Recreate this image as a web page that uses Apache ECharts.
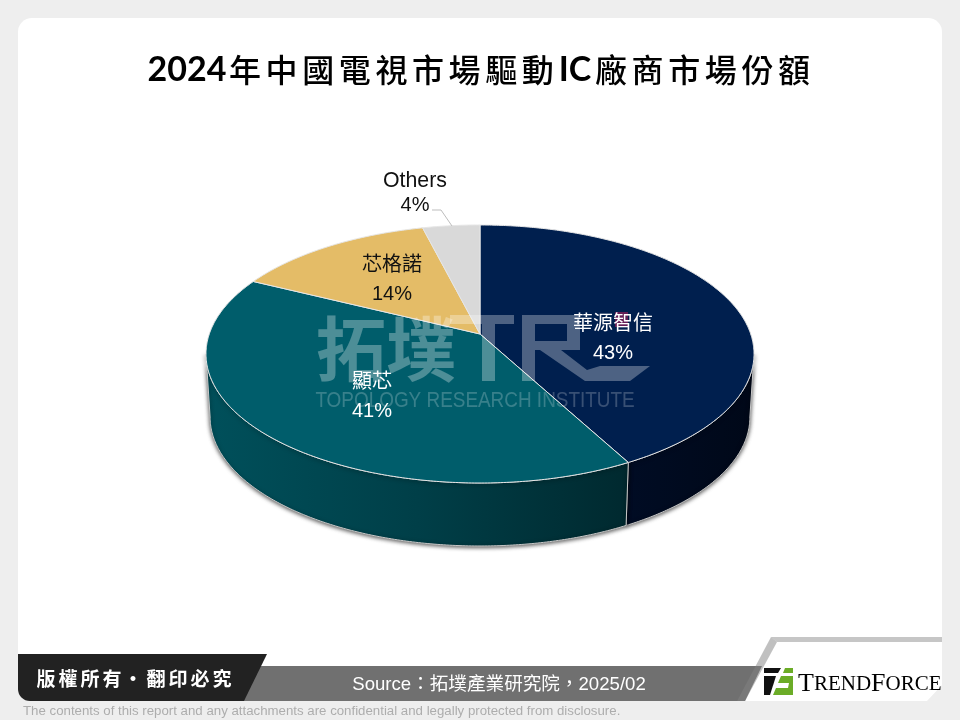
<!DOCTYPE html>
<html><head><meta charset="utf-8">
<style>html,body{margin:0;padding:0;background:#eeeeee}#c{width:960px;height:720px}</style>
<script src="https://cdn.jsdelivr.net/npm/echarts@6/dist/echarts.min.js"></script>
</head><body><div id="c"></div>
<script>
const categories = ['華源智信', '顯芯', '芯格諾', 'Others'];
const shares = [43, 41, 14, 4];
const titleParts = ['2024', '年中國電視市場驅動', 'IC', '廠商市場份額'];
const sourceText = 'Source：拓墣產業研究院，2025/02';
const copyrightChars = ['版','權','所','有','·','翻','印','必','究'];
const disclaimer = 'The contents of this report and any attachments are confidential and legally protected from disclosure.';

const topColors = ['#001f4e', '#005d6b', '#e4bc67', '#d9d9d9'];
const wallStops = [
  [{offset: 0, color: '#000c24'}, {offset: 1, color: '#000818'}],
  [{offset: 0, color: '#00505b'}, {offset: 0.5, color: '#003f48'}, {offset: 1, color: '#00292f'}]
];
const labelColors = ['#fff', '#fff', '#111', '#111'];
const labelBoxes = [[613, 324, 353], [372, 382, 411], [392, 265, 294], [415, 181, 205]];
const nameSizes = [20, 20, 20, 21.3];

const SANS = '"Liberation Sans","Noto Sans CJK TC",sans-serif';
const CJK = '"Noto Sans CJK TC",sans-serif';

// perspective disc
const P = {cx: 480, cy: 334, b: 270.7, a: 125.9, k: 0.155, depth: 63, wallScale: 0.985};
function proj(theta, lift) {
  const X = Math.sin(theta), Y = -Math.cos(theta), w = 1 - P.k * Y;
  const s = lift ? P.wallScale : 1;
  return [P.cx + s * P.b * X / w, P.cy + P.a * Y / w + (lift ? P.depth : 0)];
}
function arc(a0, a1, lift) {
  const n = Math.max(2, Math.ceil(Math.abs(a1 - a0) / 0.01)), pts = [];
  for (let i = 0; i <= n; i++) pts.push(proj(a0 + (a1 - a0) * i / n, lift));
  return pts;
}
const total = shares.reduce((s, v) => s + v, 0);
const rimStart = Math.PI - Math.acos(P.k), rimEnd = Math.PI + Math.acos(P.k);

function renderSlice(params, api) {
  const i = params.dataIndex;
  let before = 0;
  for (let j = 0; j < i; j++) before += shares[j];
  const a0 = before / total * 2 * Math.PI;
  const a1 = (before + api.value(0)) / total * 2 * Math.PI;
  const children = [];
  const w0 = Math.max(a0, rimStart), w1 = Math.min(a1, rimEnd);
  if (w1 > w0) {
    const pts = arc(w0, w1, false).concat(arc(w1, w0, true));
    children.push({
      type: 'polygon', shape: {points: pts},
      style: {
        fill: {type: 'linear', x: 0, y: 0, x2: 1, y2: 0, colorStops: wallStops[i]},
        stroke: '#c8c8c8', lineWidth: 1,
        shadowBlur: 4, shadowColor: 'rgba(0,0,0,0.7)', shadowOffsetY: 1
      }
    });
  }
  const top = [[P.cx, P.cy]].concat(arc(a0, a1, false));
  children.push({
    type: 'polygon', shape: {points: top},
    style: {fill: topColors[i], stroke: '#e6e6e6', lineWidth: 1}
  });
  return {type: 'group', children};
}
function renderLabel(params, api) {
  const i = params.dataIndex, box = labelBoxes[i];
  const col = labelColors[i];
  const kids = [
    {type: 'text', style: {text: categories[i], x: box[0], y: box[1], align: 'center', verticalAlign: 'middle', fill: col, font: nameSizes[i] + 'px ' + SANS}},
    {type: 'text', style: {text: api.value(0) + '%', x: box[0], y: box[2], align: 'center', verticalAlign: 'middle', fill: col, font: '20px ' + SANS}}
  ];
  if (i === 3) kids.push({type: 'polyline', shape: {points: [[432, 210], [441, 210], [452, 226]]}, style: {stroke: '#bdbdbd', lineWidth: 1, fill: null}});
  return {type: 'group', children: kids};
}

const G = [];
const poly = (points, fill, z) => G.push({type: 'polygon', z: z, silent: true, shape: {points}, style: {fill}});
const txt = (text, x, y, font, fill, align, z) => G.push({type: 'text', z: z || 1, silent: true, style: {text, x, y, font, fill, align: align || 'center', verticalAlign: 'middle'}});

// card
G.push({type: 'rect', z: 0, silent: true, shape: {x: 18, y: 18, width: 924, height: 683, r: [14, 14, 14, 14]}, style: {fill: '#ffffff'}});
poly([[926, 702], [943, 702], [943, 684]], '#eeeeee', 0);

// title
txt(titleParts[0], 187, 70, 'bold 34px Lato,' + SANS, '#000', 'center', 1);
Array.from(titleParts[1]).forEach((c, i) => txt(c, 245 + i * 36.6, 70, '500 32px ' + CJK, '#000', 'center', 1));
txt(titleParts[2], 575, 70, 'bold 34px Lato,' + SANS, '#000', 'center', 1);
Array.from(titleParts[3]).forEach((c, i) => txt(c, 611 + i * 36.6, 70, '500 32px ' + CJK, '#000', 'center', 1));

// watermark
const WM = 'rgba(255,255,255,0.3)';
txt('拓墣', 386, 349, 'bold 70px ' + CJK, WM, 'center', 5);
G.push({type: 'text', z: 5, silent: true, x: 475, y: 401, scaleX: 0.86, style: {text: 'TOPOLOGY RESEARCH INSTITUTE', x: 0, y: 0, font: '22px "Liberation Sans",sans-serif', fill: 'rgba(255,255,255,0.22)', align: 'center', verticalAlign: 'middle'}});
poly([[450, 315], [514, 315], [514, 324], [495, 324], [495, 381], [482, 381], [482, 324], [450, 324]], WM, 5);
poly([[522, 315], [580, 315], [580, 324], [535, 324], [535, 381], [522, 381]], WM, 5);
poly([[567, 324], [580, 324], [580, 350], [535, 350], [535, 341], [567, 341]], WM, 5);
poly([[540, 350], [561, 350], [587, 370], [600, 366], [650, 366], [630, 381], [585, 381]], WM, 5);

// pink mark
G.push({type: 'rect', z: 6, silent: true, shape: {x: 615, y: 312, width: 13, height: 15}, style: {fill: '#651d55'}});

// footer
poly([[244, 666], [762, 666], [745, 701], [244, 701]], '#707070', 7);
G.push({type: 'rect', z: 7, silent: true, shape: {x: 18, y: 654, width: 212, height: 47, r: [0, 0, 0, 12]}, style: {fill: '#222222'}});
poly([[228, 654], [267, 654], [244, 701], [228, 701]], '#222222', 7);
const copyX = [46, 68, 90, 112, 133, 156, 178, 200, 222];
copyrightChars.forEach((c, i) => txt(c, copyX[i], 679, 'bold 19px ' + CJK, '#fff', 'center', 8));
txt(sourceText, 499, 685, '18.6px ' + SANS, '#fff', 'center', 8);
poly([[771, 637], [942, 637], [942, 642], [777, 642]], '#c6c6c6', 7);
poly([[771, 637], [777, 642], [745, 701], [737, 701]], 'rgba(130,130,130,0.5)', 8);

// logo
poly([[764, 668], [781, 668], [778, 673], [764, 673]], '#111', 8);
poly([[764, 676], [776, 676], [770, 695], [764, 695]], '#111', 8);
poly([[785, 668], [793, 668], [793, 673], [783, 673]], '#6bac27', 8);
poly([[781, 676], [793, 676], [793, 695], [773, 695], [776, 688], [788, 688], [789, 683], [778, 683]], '#6bac27', 8);
G.push({type: 'text', z: 8, silent: true, style: {
  text: '{a|T}{b|REND}{a|F}{b|ORCE}', x: 798, y: 684, align: 'left', verticalAlign: 'middle',
  rich: {a: {font: '26px "Liberation Serif",serif', fill: '#000'}, b: {font: '21px "Liberation Serif",serif', fill: '#000'}}
}});

txt(disclaimer, 23, 711, '13.25px ' + SANS, '#adadad', 'left', 8);

const chart = echarts.init(document.getElementById('c'));
const rows = categories.map((c, i) => ({name: c, value: [shares[i]]}));
chart.setOption({
  animation: false,
  backgroundColor: '#eeeeee',
  tooltip: {show: false},
  graphic: {elements: G},
  series: [
    {type: 'custom', z: 2, coordinateSystem: 'none', silent: true, renderItem: renderSlice, data: rows},
    {type: 'custom', z: 20, coordinateSystem: 'none', silent: true, renderItem: renderLabel, data: rows}
  ]
});
</script></body></html>
